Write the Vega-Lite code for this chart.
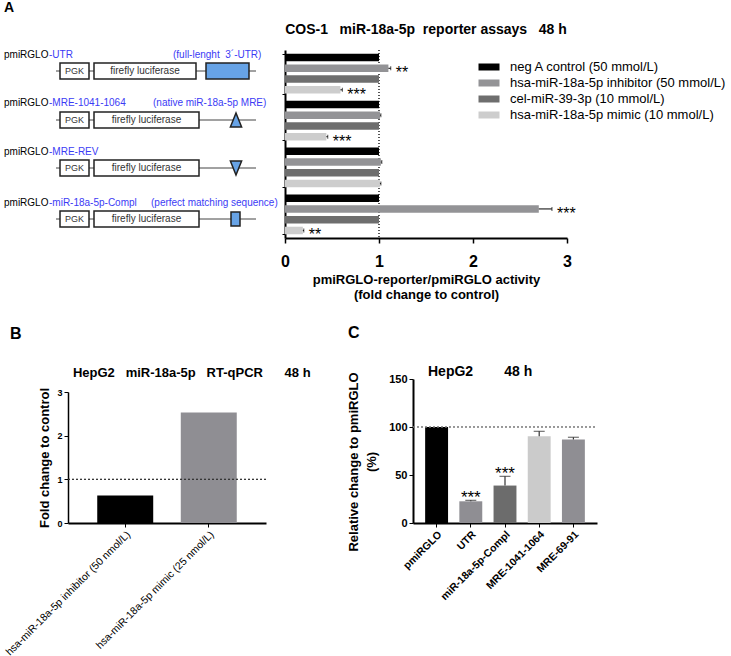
{
  "$schema": "https://vega.github.io/schema/vega-lite/v6.json",
  "padding": {"left": 3, "top": 1, "right": 0, "bottom": 0},
  "config": {
    "font": "Liberation Sans",
    "view": {"stroke": null},
    "axis": {"labelColor": "black", "titleColor": "black", "domainColor": "black", "tickColor": "black", "grid": false},
    "title": {"color": "black", "subtitleColor": "black"}
  },
  "datasets": {
    "A": [
      {"construct": "UTR", "treatment": "neg A control (50 mmol/L)", "value": 1.0},
      {"construct": "UTR", "treatment": "hsa-miR-18a-5p inhibitor (50 mmol/L)", "value": 1.10, "hi": 1.125, "sig": "**"},
      {"construct": "UTR", "treatment": "cel-miR-39-3p (10 mmol/L)", "value": 1.0},
      {"construct": "UTR", "treatment": "hsa-miR-18a-5p mimic (10 mmol/L)", "value": 0.59, "hi": 0.61, "sig": "***"},
      {"construct": "MRE-1041-1064", "treatment": "neg A control (50 mmol/L)", "value": 1.0},
      {"construct": "MRE-1041-1064", "treatment": "hsa-miR-18a-5p inhibitor (50 mmol/L)", "value": 1.01, "hi": 1.02},
      {"construct": "MRE-1041-1064", "treatment": "cel-miR-39-3p (10 mmol/L)", "value": 1.0},
      {"construct": "MRE-1041-1064", "treatment": "hsa-miR-18a-5p mimic (10 mmol/L)", "value": 0.44, "hi": 0.455, "sig": "***"},
      {"construct": "MRE-REV", "treatment": "neg A control (50 mmol/L)", "value": 1.0},
      {"construct": "MRE-REV", "treatment": "hsa-miR-18a-5p inhibitor (50 mmol/L)", "value": 1.02, "hi": 1.03},
      {"construct": "MRE-REV", "treatment": "cel-miR-39-3p (10 mmol/L)", "value": 1.0},
      {"construct": "MRE-REV", "treatment": "hsa-miR-18a-5p mimic (10 mmol/L)", "value": 1.01, "hi": 1.02},
      {"construct": "miR-18a-5p-Compl", "treatment": "neg A control (50 mmol/L)", "value": 1.0},
      {"construct": "miR-18a-5p-Compl", "treatment": "hsa-miR-18a-5p inhibitor (50 mmol/L)", "value": 2.70, "hi": 2.84, "sig": "***"},
      {"construct": "miR-18a-5p-Compl", "treatment": "cel-miR-39-3p (10 mmol/L)", "value": 1.0},
      {"construct": "miR-18a-5p-Compl", "treatment": "hsa-miR-18a-5p mimic (10 mmol/L)", "value": 0.19, "hi": 0.20, "sig": "**"}
    ],
    "B": [
      {"treatment": "hsa-miR-18a-5p inhibitor (50 nmol/L)", "value": 0.63},
      {"treatment": "hsa-miR-18a-5p mimic (25 nmol/L)", "value": 2.53}
    ],
    "Blab": [
      {"kind": "panel", "label": "B", "lx": -0.293, "ly": 1.3125},
      {"kind": "title", "label": "HepG2\u00a0\u00a0 miR-18a-5p\u00a0\u00a0 RT-qPCR\u00a0\u00a0\u00a0\u00a0\u00a0 48 h", "lx": 0.025, "ly": 1.0417}
    ],
    "C": [
      {"construct": "pmiRGLO", "value": 100},
      {"construct": "UTR", "value": 22.6, "hi": 23.6, "sig": "***"},
      {"construct": "miR-18a-5p-Compl", "value": 39, "hi": 48.6, "sig": "***"},
      {"construct": "MRE-1041-1064", "value": 90.3, "hi": 95.5},
      {"construct": "MRE-69-91", "value": 87, "hi": 89.3}
    ],
    "Clab": [
      {"kind": "panel", "label": "C", "lx": 0.2019, "ly": 1.3194},
      {"kind": "title", "label": "HepG2\u00a0\u00a0\u00a0\u00a0\u00a0\u00a0\u00a0\u00a048 h", "lx": 0.4583, "ly": 1.0486}
    ],
    "dlines": [
      {"row": 1, "u1": 55, "u2": 255, "v": 71},
      {"row": 2, "u1": 55, "u2": 255, "v": 120},
      {"row": 3, "u1": 55, "u2": 255, "v": 168},
      {"row": 4, "u1": 55, "u2": 255, "v": 219}
    ],
    "dboxes": [
      {"row": 1, "part": "box", "u1": 59, "u2": 88, "v1": 63, "v2": 79},
      {"row": 1, "part": "box", "u1": 93, "u2": 195, "v1": 63, "v2": 79},
      {"row": 1, "part": "element", "u1": 205, "u2": 248, "v1": 63, "v2": 79},
      {"row": 2, "part": "box", "u1": 59, "u2": 88, "v1": 112, "v2": 128},
      {"row": 2, "part": "box", "u1": 93, "u2": 198, "v1": 112, "v2": 128},
      {"row": 3, "part": "box", "u1": 59, "u2": 88, "v1": 160, "v2": 176},
      {"row": 3, "part": "box", "u1": 93, "u2": 198, "v1": 160, "v2": 176},
      {"row": 4, "part": "box", "u1": 59, "u2": 88, "v1": 211, "v2": 227},
      {"row": 4, "part": "box", "u1": 93, "u2": 198, "v1": 211, "v2": 227},
      {"row": 4, "part": "element", "u1": 230, "u2": 239, "v1": 212, "v2": 226}
    ],
    "dtri": [
      {"row": 2, "dir": "up", "u": 235, "v": 120},
      {"row": 3, "dir": "down", "u": 235, "v": 168}
    ],
    "dtext": [
      {"row": 0, "part": "panel", "u": 3, "v": 8, "label": "A"},
      {"row": 1, "part": "prefix", "u": 3, "v": 54.5, "label": "pmiRGLO"},
      {"row": 2, "part": "prefix", "u": 3, "v": 102.5, "label": "pmiRGLO"},
      {"row": 3, "part": "prefix", "u": 3, "v": 151.5, "label": "pmiRGLO"},
      {"row": 4, "part": "prefix", "u": 3, "v": 202.5, "label": "pmiRGLO"},
      {"row": 1, "part": "suffix", "u": 48, "v": 54.5, "label": "-UTR"},
      {"row": 2, "part": "suffix", "u": 48, "v": 102.5, "label": "-MRE-1041-1064"},
      {"row": 3, "part": "suffix", "u": 48, "v": 151.5, "label": "-MRE-REV"},
      {"row": 4, "part": "suffix", "u": 48, "v": 202.5, "label": "-miR-18a-5p-Compl"},
      {"row": 1, "part": "suffix", "u": 172, "v": 54.5, "label": "(full-lenght\u00a0 3´-UTR)"},
      {"row": 2, "part": "suffix", "u": 152, "v": 102.5, "label": "(native miR-18a-5p MRE)"},
      {"row": 4, "part": "suffix", "u": 150, "v": 202.5, "label": "(perfect matching sequence)"},
      {"row": 1, "part": "pgk", "u": 73.5, "v": 71, "label": "PGK"},
      {"row": 2, "part": "pgk", "u": 73.5, "v": 120, "label": "PGK"},
      {"row": 3, "part": "pgk", "u": 73.5, "v": 168, "label": "PGK"},
      {"row": 4, "part": "pgk", "u": 73.5, "v": 219, "label": "PGK"},
      {"row": 1, "part": "luc", "u": 144, "v": 71, "label": "firefly luciferase"},
      {"row": 2, "part": "luc", "u": 145.5, "v": 120, "label": "firefly luciferase"},
      {"row": 3, "part": "luc", "u": 145.5, "v": 168, "label": "firefly luciferase"},
      {"row": 4, "part": "luc", "u": 145.5, "v": 219, "label": "firefly luciferase"}
    ]
  },
  "resolve": {"scale": {"color": "independent", "fill": "independent", "shape": "independent"}, "legend": {"color": "independent", "fill": "independent", "shape": "independent"}},
  "columns": 2,
  "bounds": "flush",
  "align": "each",
  "center": false,
  "spacing": {"column": 19, "row": 141},
  "concat": [
    {
      "width": 198,
      "height": 188,
      "layer": [
        {
          "data": {"name": "dlines"},
          "mark": {"type": "rule", "color": "#444444", "strokeWidth": 1},
          "encoding": {
            "x": {"field": "u1", "type": "quantitative", "scale": {"domain": [67, 265], "nice": false, "zero": false}, "axis": null},
            "x2": {"field": "u2"},
            "y": {"field": "v", "type": "quantitative", "scale": {"domain": [50, 238], "nice": false, "zero": false, "reverse": true}, "axis": null}
          }
        },
        {
          "data": {"name": "dboxes"},
          "mark": {"type": "rect", "stroke": "#222222", "strokeWidth": 1.5},
          "encoding": {
            "x": {"field": "u1", "type": "quantitative", "axis": null},
            "x2": {"field": "u2"},
            "y": {"field": "v1", "type": "quantitative", "axis": null},
            "y2": {"field": "v2"},
            "fill": {"field": "part", "type": "nominal", "scale": {"domain": ["box", "element"], "range": ["white", "#67a3e6"]}, "legend": null}
          }
        },
        {
          "data": {"name": "dtri"},
          "mark": {"type": "point", "filled": true, "fill": "#67a3e6", "stroke": "#222222", "strokeWidth": 1.5, "size": 196, "opacity": 1},
          "encoding": {
            "x": {"field": "u", "type": "quantitative", "axis": null},
            "y": {"field": "v", "type": "quantitative", "axis": null},
            "shape": {"field": "dir", "type": "nominal", "scale": {"domain": ["up", "down"], "range": ["M0,-1L0.8,1L-0.8,1Z", "M0,1L0.8,-1L-0.8,-1Z"]}, "legend": null}
          }
        },
        {
          "data": {"name": "dtext"},
          "transform": [{"filter": "datum.part == 'panel'"}],
          "mark": {"type": "text", "align": "left", "baseline": "middle", "fontSize": 14, "fontWeight": "bold", "color": "black"},
          "encoding": {
            "x": {"field": "u", "type": "quantitative", "axis": null},
            "y": {"field": "v", "type": "quantitative", "axis": null},
            "text": {"field": "label"}
          }
        },
        {
          "data": {"name": "dtext"},
          "transform": [{"filter": "datum.part == 'prefix'"}],
          "mark": {"type": "text", "align": "left", "baseline": "middle", "fontSize": 10, "color": "black"},
          "encoding": {
            "x": {"field": "u", "type": "quantitative", "axis": null},
            "y": {"field": "v", "type": "quantitative", "axis": null},
            "text": {"field": "label"}
          }
        },
        {
          "data": {"name": "dtext"},
          "transform": [{"filter": "datum.part == 'suffix'"}],
          "mark": {"type": "text", "align": "left", "baseline": "middle", "fontSize": 10, "color": "#3b3bf5"},
          "encoding": {
            "x": {"field": "u", "type": "quantitative", "axis": null},
            "y": {"field": "v", "type": "quantitative", "axis": null},
            "text": {"field": "label"}
          }
        },
        {
          "data": {"name": "dtext"},
          "transform": [{"filter": "datum.part == 'pgk'"}],
          "mark": {"type": "text", "align": "center", "baseline": "middle", "fontSize": 9, "color": "#333333"},
          "encoding": {
            "x": {"field": "u", "type": "quantitative", "axis": null},
            "y": {"field": "v", "type": "quantitative", "axis": null},
            "text": {"field": "label"}
          }
        },
        {
          "data": {"name": "dtext"},
          "transform": [{"filter": "datum.part == 'luc'"}],
          "mark": {"type": "text", "align": "center", "baseline": "middle", "fontSize": 10, "color": "#333333"},
          "encoding": {
            "x": {"field": "u", "type": "quantitative", "axis": null},
            "y": {"field": "v", "type": "quantitative", "axis": null},
            "text": {"field": "label"}
          }
        }
      ]
    },
    {
      "width": 282,
      "height": 188,
      "title": {"text": "COS-1\u00a0\u00a0 miR-18a-5p\u00a0 reporter assays\u00a0\u00a0 48 h", "fontSize": 14, "fontWeight": "bold", "anchor": "middle", "offset": 13},
      "data": {"name": "A"},
      "layer": [
        {
          "mark": {"type": "rule", "strokeDash": [1, 2], "color": "#555555", "strokeWidth": 1},
          "encoding": {"x": {"datum": 1, "type": "quantitative"}}
        },
        {
          "mark": {"type": "bar"},
          "encoding": {
            "y": {"field": "construct", "type": "nominal", "sort": ["UTR", "MRE-1041-1064", "MRE-REV", "miR-18a-5p-Compl"],
                  "scale": {"paddingInner": 0.15, "paddingOuter": 0.08},
                  "axis": {"title": null, "labels": false, "ticks": true, "tickBand": "extent", "tickSize": 3, "domainWidth": 2}},
            "yOffset": {"field": "treatment", "type": "nominal",
                        "sort": ["neg A control (50 mmol/L)", "hsa-miR-18a-5p inhibitor (50 mmol/L)", "cel-miR-39-3p (10 mmol/L)", "hsa-miR-18a-5p mimic (10 mmol/L)"],
                        "scale": {"paddingInner": 0.3, "paddingOuter": 0}},
            "x": {"field": "value", "type": "quantitative", "scale": {"domain": [0, 3], "nice": false},
                  "axis": {"values": [0, 1, 2, 3], "format": "d", "title": ["pmiRGLO-reporter/pmiRGLO activity", "(fold change to control)"],
                           "titleFontSize": 13, "titleFontWeight": "bold", "titleLineHeight": 15, "titlePadding": 4,
                           "labelFontSize": 16, "labelFontWeight": "bold", "labelPadding": 10, "labelFlush": false,
                           "domainWidth": 2, "tickSize": 5, "tickWidth": 1.5}},
            "color": {"field": "treatment", "type": "nominal",
                      "scale": {"domain": ["neg A control (50 mmol/L)", "hsa-miR-18a-5p inhibitor (50 mmol/L)", "cel-miR-39-3p (10 mmol/L)", "hsa-miR-18a-5p mimic (10 mmol/L)"],
                                "range": ["#000000", "#939396", "#6e6e6e", "#cdcdcd"]},
                      "legend": {"orient": "none", "legendX": 197, "legendY": 10, "title": null, "padding": 0,
                                 "symbolType": "M-1.5,-0.5H1.5V0.5H-1.5Z", "symbolSize": 196, "symbolStrokeWidth": 0,
                                 "labelFontSize": 13, "labelOffset": 14, "rowPadding": 2, "labelLimit": 400, "labelColor": "black"}}
          }
        },
        {
          "transform": [{"filter": "isValid(datum.hi)"}],
          "mark": {"type": "rule", "color": "black", "strokeWidth": 1},
          "encoding": {
            "y": {"field": "construct", "type": "nominal", "sort": ["UTR", "MRE-1041-1064", "MRE-REV", "miR-18a-5p-Compl"]},
            "yOffset": {"field": "treatment", "type": "nominal", "sort": ["neg A control (50 mmol/L)", "hsa-miR-18a-5p inhibitor (50 mmol/L)", "cel-miR-39-3p (10 mmol/L)", "hsa-miR-18a-5p mimic (10 mmol/L)"]},
            "x": {"field": "value", "type": "quantitative"},
            "x2": {"field": "hi"}
          }
        },
        {
          "transform": [{"filter": "isValid(datum.hi)"}],
          "mark": {"type": "tick", "color": "black", "thickness": 1, "size": 4, "orient": "vertical"},
          "encoding": {
            "y": {"field": "construct", "type": "nominal", "sort": ["UTR", "MRE-1041-1064", "MRE-REV", "miR-18a-5p-Compl"]},
            "yOffset": {"field": "treatment", "type": "nominal", "sort": ["neg A control (50 mmol/L)", "hsa-miR-18a-5p inhibitor (50 mmol/L)", "cel-miR-39-3p (10 mmol/L)", "hsa-miR-18a-5p mimic (10 mmol/L)"]},
            "x": {"field": "hi", "type": "quantitative"}
          }
        },
        {
          "transform": [{"filter": "isValid(datum.sig)"}],
          "mark": {"type": "text", "align": "left", "baseline": "alphabetic", "dx": 5, "dy": 10, "fontSize": 16, "color": "black"},
          "encoding": {
            "y": {"field": "construct", "type": "nominal", "sort": ["UTR", "MRE-1041-1064", "MRE-REV", "miR-18a-5p-Compl"]},
            "yOffset": {"field": "treatment", "type": "nominal", "sort": ["neg A control (50 mmol/L)", "hsa-miR-18a-5p inhibitor (50 mmol/L)", "cel-miR-39-3p (10 mmol/L)", "hsa-miR-18a-5p mimic (10 mmol/L)"]},
            "x": {"field": "hi", "type": "quantitative"},
            "text": {"field": "sig"}
          }
        }
      ]
    },
    {
      "width": 198,
      "height": 144,
      "resolve": {"scale": {"x": "independent", "y": "independent"}},
      "layer": [
        {
          "data": {"name": "B"},
          "layer": [
            {
              "mark": {"type": "bar"},
              "encoding": {
                "x": {"field": "treatment", "type": "nominal", "sort": ["hsa-miR-18a-5p inhibitor (50 nmol/L)", "hsa-miR-18a-5p mimic (25 nmol/L)"],
                      "scale": {"paddingInner": 0.33, "paddingOuter": 0.35},
                      "axis": {"title": null, "labelAngle": -45, "labelFontSize": 10.5, "labelLimit": 300, "domainWidth": 2, "tickSize": 4}},
                "y": {"field": "value", "type": "quantitative", "scale": {"domain": [0, 3], "nice": false, "range": [144, 13]},
                      "axis": {"values": [0, 1, 2, 3], "title": "Fold change to control", "titleFontSize": 13, "titleFontWeight": "bold",
                               "labelFontSize": 9, "labelFontWeight": "bold", "domainWidth": 1.5, "tickSize": 4, "titlePadding": 5}},
                "color": {"field": "treatment", "type": "nominal", "scale": {"domain": ["hsa-miR-18a-5p inhibitor (50 nmol/L)", "hsa-miR-18a-5p mimic (25 nmol/L)"], "range": ["#000000", "#8f8e93"]}, "legend": null}
              }
            },
            {
              "mark": {"type": "rule", "strokeDash": [2, 2], "color": "#333333", "strokeWidth": 1},
              "encoding": {"y": {"datum": 1, "type": "quantitative"}}
            }
          ]
        },
        {
          "data": {"name": "Blab"},
          "layer": [
            {
              "transform": [{"filter": "datum.kind == 'panel'"}],
              "mark": {"type": "text", "align": "left", "baseline": "middle", "fontSize": 16, "fontWeight": "bold", "color": "black"},
              "encoding": {
                "x": {"field": "lx", "type": "quantitative", "scale": {"domain": [0, 1], "nice": false, "zero": false}, "axis": null},
                "y": {"field": "ly", "type": "quantitative", "scale": {"domain": [0, 1], "nice": false, "zero": false}, "axis": null},
                "text": {"field": "label"}
              }
            },
            {
              "transform": [{"filter": "datum.kind == 'title'"}],
              "mark": {"type": "text", "align": "left", "baseline": "middle", "fontSize": 13, "fontWeight": "bold", "color": "black"},
              "encoding": {
                "x": {"field": "lx", "type": "quantitative", "axis": null},
                "y": {"field": "ly", "type": "quantitative", "axis": null},
                "text": {"field": "label"}
              }
            }
          ]
        }
      ]
    },
    {
      "width": 312,
      "height": 144,
      "resolve": {"scale": {"x": "independent", "y": "independent"}},
      "layer": [
        {
          "data": {"name": "C"},
          "layer": [
            {
              "mark": {"type": "bar"},
              "encoding": {
                "x": {"field": "construct", "type": "nominal", "sort": ["pmiRGLO", "UTR", "miR-18a-5p-Compl", "MRE-1041-1064", "MRE-69-91"],
                      "scale": {"paddingInner": 0.33, "paddingOuter": 0.355, "range": [128, 312]},
                      "axis": {"title": null, "labelAngle": -45, "labelFontSize": 10.5, "labelFontWeight": "bold", "labelLimit": 300, "domainWidth": 2, "tickSize": 4}},
                "y": {"field": "value", "type": "quantitative", "scale": {"domain": [0, 150], "nice": false},
                      "axis": {"values": [0, 50, 100, 150], "title": ["Relative change to pmiRGLO", "(%)"], "titleFontSize": 13, "titleFontWeight": "bold", "titleLineHeight": 18,
                               "offset": -128, "titleX": -53, "titleY": 82.5, "labelFontSize": 11, "labelFontWeight": "bold", "domainWidth": 2, "tickSize": 4}},
                "color": {"field": "construct", "type": "nominal", "scale": {"domain": ["pmiRGLO", "UTR", "miR-18a-5p-Compl", "MRE-1041-1064", "MRE-69-91"], "range": ["#000000", "#8f8e93", "#6c6c6c", "#cbcbcb", "#8f8e93"]}, "legend": null}
              }
            },
            {
              "transform": [{"filter": "isValid(datum.hi)"}],
              "mark": {"type": "rule", "color": "#333333", "strokeWidth": 1.2},
              "encoding": {
                "x": {"field": "construct", "type": "nominal", "sort": ["pmiRGLO", "UTR", "miR-18a-5p-Compl", "MRE-1041-1064", "MRE-69-91"]},
                "y": {"field": "value", "type": "quantitative"},
                "y2": {"field": "hi"}
              }
            },
            {
              "transform": [{"filter": "isValid(datum.hi)"}],
              "mark": {"type": "tick", "color": "#333333", "thickness": 1.2, "size": 11, "orient": "horizontal"},
              "encoding": {
                "x": {"field": "construct", "type": "nominal", "sort": ["pmiRGLO", "UTR", "miR-18a-5p-Compl", "MRE-1041-1064", "MRE-69-91"]},
                "y": {"field": "hi", "type": "quantitative"}
              }
            },
            {
              "transform": [{"filter": "isValid(datum.sig)"}],
              "mark": {"type": "text", "align": "center", "baseline": "alphabetic", "dy": 3, "fontSize": 17, "color": "black"},
              "encoding": {
                "x": {"field": "construct", "type": "nominal", "sort": ["pmiRGLO", "UTR", "miR-18a-5p-Compl", "MRE-1041-1064", "MRE-69-91"]},
                "y": {"field": "hi", "type": "quantitative"},
                "text": {"field": "sig"}
              }
            }
          ]
        },
        {
          "data": {"name": "Clab"},
          "layer": [
            {
              "mark": {"type": "rule", "strokeDash": [2, 2], "color": "#777777", "strokeWidth": 1},
              "encoding": {
                "x": {"datum": 0.4103, "type": "quantitative", "scale": {"domain": [0, 1], "nice": false, "zero": false}, "axis": null},
                "x2": {"datum": 1},
                "y": {"datum": 0.6667, "type": "quantitative", "scale": {"domain": [0, 1], "nice": false, "zero": false}, "axis": null}
              }
            },
            {
              "transform": [{"filter": "datum.kind == 'panel'"}],
              "mark": {"type": "text", "align": "left", "baseline": "middle", "fontSize": 16, "fontWeight": "bold", "color": "black"},
              "encoding": {
                "x": {"field": "lx", "type": "quantitative", "axis": null},
                "y": {"field": "ly", "type": "quantitative", "axis": null},
                "text": {"field": "label"}
              }
            },
            {
              "transform": [{"filter": "datum.kind == 'title'"}],
              "mark": {"type": "text", "align": "left", "baseline": "middle", "fontSize": 14, "fontWeight": "bold", "color": "black"},
              "encoding": {
                "x": {"field": "lx", "type": "quantitative", "axis": null},
                "y": {"field": "ly", "type": "quantitative", "axis": null},
                "text": {"field": "label"}
              }
            }
          ]
        }
      ]
    }
  ]
}
